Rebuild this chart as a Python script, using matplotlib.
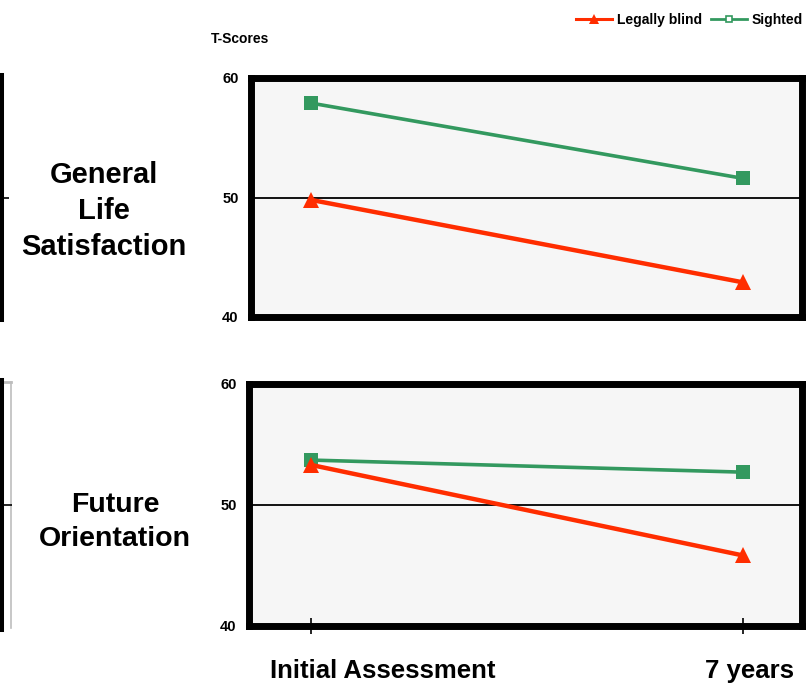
import matplotlib
matplotlib.use("Agg")
import matplotlib.pyplot as plt
from matplotlib.transforms import blended_transform_factory

# ---- data ----
timepoints = ["Initial Assessment", "7 years"]
panels = ["General\nLife\nSatisfaction", "Future\nOrientation"]
blind_gls = [49.8, 42.9]
sighted_gls = [57.9, 51.6]
blind_fo = [53.3, 45.8]
sighted_fo = [53.7, 52.7]
yticks = [40, 50, 60]
series_names = ["Legally blind", "Sighted"]

RED = "#ff2d00"
GREEN = "#33995f"
BG = "#f6f6f6"
REG = ["Liberation Sans", "DejaVu Sans"]

W, H = 806, 690
fig = plt.figure(figsize=(W / 100, H / 100), dpi=100)


def px_axes(x0, y0, x1, y1):
    return fig.add_axes([x0 / W, 1 - y1 / H, (x1 - x0) / W, (y1 - y0) / H])


def panel(ax, blind, sighted, show_xticks, xl):
    ax.set_facecolor(BG)
    ax.set_xlim(*xl)
    ax.set_ylim(40, 60)
    for s in ax.spines.values():
        s.set_linewidth(5.0)
        s.set_color("black")
    ax.axhline(50, color="black", lw=1.3, zorder=1)
    x = list(range(len(timepoints)))
    ax.plot(x, sighted, color=GREEN, lw=2.6, marker="s", ms=10.5,
            markeredgewidth=0, zorder=3, solid_capstyle="butt")
    ax.plot(x, blind, color=RED, lw=3.2, marker="^", ms=12,
            markeredgewidth=0, zorder=4, solid_capstyle="butt")
    ax.set_yticks(yticks)
    ax.set_yticklabels([str(v) for v in yticks], fontsize=10.5,
                       fontweight="bold", family=REG)
    ax.tick_params(axis="y", length=0, pad=9)
    ax.set_xticks(x)
    ax.set_xticklabels([])
    if show_xticks:
        ax.tick_params(axis="x", direction="inout", length=11, width=1.2,
                       color="black")
    else:
        ax.tick_params(axis="x", length=0)


# main panels
ax1 = px_axes(251, 78, 802, 317)
panel(ax1, blind_gls, sighted_gls, False, (-0.139, 1.1366))
ax2 = px_axes(249, 384, 802, 625.5)
panel(ax2, blind_fo, sighted_fo, True, (-0.1435, 1.1366))

# panel titles
fig.text(104 / W, 1 - 211 / H, panels[0], ha="center", va="center",
         fontsize=21, fontweight="bold", family=REG, linespacing=1.36)
fig.text(115 / W, 1 - 522 / H, panels[1], ha="center", va="center",
         fontsize=20.5, fontweight="bold", family=REG, linespacing=1.36)

# x category labels below bottom panel
tr = blended_transform_factory(ax2.transData, fig.transFigure)
label_offsets = [0.165, 0.014]
for i, lab in enumerate(timepoints):
    ax2.text(i + label_offsets[i], 1 - 671 / H, lab, transform=tr,
             ha="center", va="center", fontsize=18.5, fontweight="bold",
             family=REG)

# T-Scores
fig.text(240 / W, 1 - 39 / H, "T-Scores", ha="center", va="center",
         fontsize=10, fontweight="bold", family=REG)

# legend
h1, = ax1.plot([], [], color=RED, lw=2.2, marker="^", ms=7, markeredgewidth=0)
h2, = ax1.plot([], [], color=GREEN, lw=2.0, marker="s", ms=5,
               markerfacecolor="white", markeredgecolor=GREEN,
               markeredgewidth=1.2)
leg = fig.legend([h1, h2], series_names, loc="center right",
                 bbox_to_anchor=(803 / W, 1 - 20 / H), ncol=2, frameon=False,
                 handlelength=2.6, handletextpad=0.35, columnspacing=0.6,
                 borderpad=0, borderaxespad=0,
                 prop={"family": REG, "weight": "bold", "size": 10})

# partial neighbouring panels on the left edge
def edge_axes(x0, y0, x1, y1, color, lw, tick_len):
    a = px_axes(x0, y0, x1, y1)
    a.patch.set_alpha(0)
    a.set_ylim(40, 60)
    a.set_xticks([])
    for k, s in a.spines.items():
        s.set_visible(k == "right")
        s.set_color(color)
        s.set_linewidth(lw)
    a.yaxis.tick_right()
    if tick_len:
        a.set_yticks([50])
        a.set_yticklabels([])
        a.tick_params(axis="y", direction="out", length=tick_len, width=1.2,
                      color="black")
    else:
        a.set_yticks([])
    return a

edge_axes(-200, 75, 2, 320, "black", 2.9, 5)
g = edge_axes(-200, 382, 10.5, 628, "#bdbdbd", 1.2, 0)
g.spines["top"].set_visible(True)
g.spines["top"].set_color("#bdbdbd")
g.spines["top"].set_linewidth(2.0)
edge_axes(-200, 380, 2, 630, "black", 2.9, 7)

fig.savefig("out.png", dpi=100)
